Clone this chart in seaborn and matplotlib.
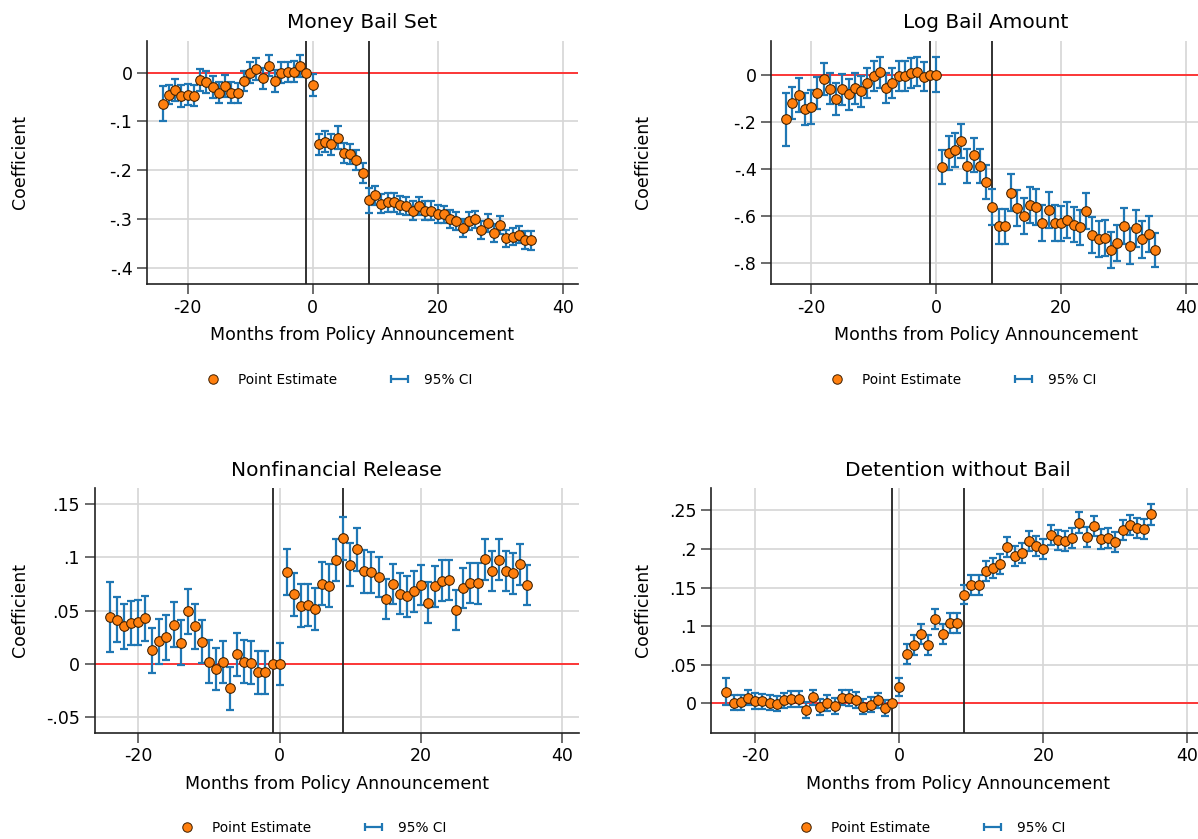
import numpy as np
import pandas as pd
import matplotlib
matplotlib.use("Agg")
import matplotlib.pyplot as plt
import seaborn as sns
from matplotlib.container import ErrorbarContainer
from matplotlib.legend_handler import HandlerErrorbar
from matplotlib.lines import Line2D
from matplotlib.ticker import FuncFormatter

# ---------------------------------------------------------------- data
months = list(range(-24, 36))

money_bail_est = [
    -0.064, -0.045, -0.036, -0.048, -0.045, -0.047, -0.015, -0.019, -0.030, -0.041,
    -0.028, -0.041, -0.042, -0.017, 0.000, 0.007, -0.012, 0.014, -0.017, 0.000,
    0.001, 0.002, 0.013, 0.000, -0.026,
    -0.147, -0.141, -0.147, -0.133, -0.164, -0.166, -0.179, -0.205, -0.261, -0.251,
    -0.268, -0.265, -0.265, -0.271, -0.273, -0.282, -0.273, -0.282, -0.282, -0.289,
    -0.290, -0.299, -0.303, -0.318, -0.303, -0.300, -0.322, -0.307, -0.328, -0.312,
    -0.339, -0.335, -0.331, -0.342, -0.343,
]
money_bail_ci = [
    0.036, 0.019, 0.023, 0.022, 0.022, 0.021, 0.022, 0.022, 0.023, 0.022,
    0.022, 0.021, 0.021, 0.021, 0.022, 0.022, 0.022, 0.022, 0.022, 0.021,
    0.021, 0.021, 0.022, np.nan, 0.022,
    0.022, 0.021, 0.021, 0.023, 0.021, 0.021, 0.020, 0.020, 0.026, 0.020,
    0.019, 0.019, 0.019, 0.019, 0.019, 0.019, 0.019, 0.019, 0.019, 0.018,
    0.018, 0.018, 0.018, 0.019, 0.018, 0.018, 0.019, 0.018, 0.019, 0.018,
    0.018, 0.018, 0.018, 0.019, 0.019,
]

log_bail_est = [
    -0.189, -0.120, -0.086, -0.144, -0.137, -0.078, -0.020, -0.059, -0.105, -0.062,
    -0.083, -0.058, -0.071, -0.037, -0.006, 0.010, -0.055, -0.037, -0.006, -0.006,
    0.007, 0.013, -0.008, 0.000, 0.000,
    -0.392, -0.333, -0.321, -0.283, -0.387, -0.341, -0.387, -0.456, -0.562, -0.643,
    -0.643, -0.500, -0.564, -0.599, -0.552, -0.561, -0.628, -0.575, -0.628, -0.631,
    -0.616, -0.636, -0.647, -0.578, -0.681, -0.698, -0.692, -0.744, -0.715, -0.643,
    -0.727, -0.652, -0.699, -0.675, -0.744,
]
log_bail_ci = [
    0.113, 0.069, 0.071, 0.068, 0.072, 0.068, 0.068, 0.066, 0.068, 0.066,
    0.066, 0.065, 0.065, 0.064, 0.064, 0.065, 0.064, 0.064, 0.063, 0.063,
    0.063, 0.063, 0.063, np.nan, 0.073,
    0.073, 0.072, 0.072, 0.072, 0.072, 0.072, 0.072, 0.072, 0.075, 0.075,
    0.074, 0.079, 0.076, 0.076, 0.076, 0.076, 0.076, 0.076, 0.076, 0.075,
    0.075, 0.075, 0.075, 0.078, 0.076, 0.076, 0.076, 0.078, 0.076, 0.076,
    0.077, 0.077, 0.077, 0.077, 0.074,
]

nonfinancial_est = [
    0.0438, 0.0416, 0.0353, 0.0384, 0.0388, 0.0428, 0.0128, 0.0213, 0.0250, 0.0366,
    0.0200, 0.0494, 0.0353, 0.0209, 0.0022, -0.0050, 0.0016, -0.0231, 0.0090, 0.0022,
    0.0010, -0.0080, -0.0080, 0.0000, 0.0000,
    0.0859, 0.0653, 0.0547, 0.0553, 0.0516, 0.0753, 0.0734, 0.0975, 0.1178, 0.0931,
    0.1075, 0.0869, 0.0859, 0.0816, 0.0609, 0.0747, 0.0659, 0.0634, 0.0681, 0.0741,
    0.0575, 0.0728, 0.0781, 0.0788, 0.0503, 0.0713, 0.0759, 0.0756, 0.0981, 0.0869,
    0.0978, 0.0872, 0.0850, 0.0934, 0.0741,
]
nonfinancial_ci = [
    0.033, 0.021, 0.021, 0.021, 0.021, 0.021, 0.021, 0.021, 0.021, 0.021,
    0.021, 0.021, 0.021, 0.020, 0.020, 0.020, 0.020, 0.020, 0.020, 0.020,
    0.020, 0.020, 0.020, np.nan, 0.020,
    0.0215, 0.020, 0.020, 0.020, 0.020, 0.020, 0.020, 0.020, 0.020, 0.020,
    0.020, 0.020, 0.019, 0.019, 0.019, 0.019, 0.019, 0.019, 0.019, 0.019,
    0.019, 0.019, 0.019, 0.019, 0.019, 0.019, 0.019, 0.019, 0.019, 0.019,
    0.019, 0.019, 0.019, 0.019, 0.019,
]

detention_est = [
    0.0152, 0.0009, 0.0013, 0.0074, 0.0030, 0.0026, 0.0009, -0.0004, 0.0039, 0.0057,
    0.0057, -0.0087, 0.0078, -0.0048, 0.0004, -0.0035, 0.0074, 0.0070, 0.0043, -0.0043,
    -0.0017, 0.0039, -0.0060, 0.0000, 0.0217,
    0.0635, 0.0751, 0.0902, 0.0760, 0.1088, 0.0894, 0.1040, 0.1045, 0.1408, 0.1533,
    0.1533, 0.1714, 0.1749, 0.1800, 0.2025, 0.1913, 0.1947, 0.2103, 0.2038, 0.2003,
    0.2176, 0.2120, 0.2103, 0.2137, 0.2340, 0.2150, 0.2297, 0.2133, 0.2137, 0.2085,
    0.2241, 0.2306, 0.2275, 0.2258, 0.2448,
]
detention_ci = [
    0.018, 0.010, 0.010, 0.010, 0.010, 0.010, 0.010, 0.010, 0.010, 0.010,
    0.010, 0.010, 0.010, 0.010, 0.010, 0.010, 0.010, 0.010, 0.010, 0.010,
    0.010, 0.010, 0.010, np.nan, 0.0117,
    0.013, 0.013, 0.013, 0.013, 0.013, 0.013, 0.013, 0.013, 0.0125, 0.013,
    0.013, 0.013, 0.013, 0.013, 0.013, 0.013, 0.013, 0.013, 0.013, 0.013,
    0.013, 0.013, 0.013, 0.013, 0.014, 0.013, 0.013, 0.013, 0.013, 0.013,
    0.013, 0.013, 0.013, 0.013, 0.0134,
]

panel_titles = ["Money Bail Set", "Log Bail Amount",
                "Nonfinancial Release", "Detention without Bail"]
panel_est = [money_bail_est, log_bail_est, nonfinancial_est, detention_est]
panel_ci = [money_bail_ci, log_bail_ci, nonfinancial_ci, detention_ci]
panel_yticks = [
    [-0.4, -0.3, -0.2, -0.1, 0.0],
    [-0.8, -0.6, -0.4, -0.2, 0.0],
    [-0.05, 0.0, 0.05, 0.10, 0.15],
    [0.0, 0.05, 0.10, 0.15, 0.20, 0.25],
]
x_ticks = [-20, 0, 20, 40]
event_months = [-1, 9]
x_label = "Months from Policy Announcement"
y_label = "Coefficient"
legend_labels = ["Point Estimate", "95% CI"]

# ---------------------------------------------------------------- layout (pixels)
W, H = 1198, 839
boxes = [(147, 40.7, 578, 284), (771, 40.7, 1201, 284),
         (94.7, 488, 579, 732.7), (711, 488, 1204, 732.7)]
xlims = [(-26.5, 42.45), (-26.4, 42.4), (-26.15, 42.35), (-26.15, 42.3)]
ylims = [(-0.432, 0.065), (-0.888, 0.144), (-0.0646, 0.165), (-0.0381, 0.2789)]
ylabel_x = [29, 652, 29, 652]
legend_centers = [(336, 380), (960, 380), (310, 828), (929, 828)]

# ---------------------------------------------------------------- style
ORANGE = "#ff7f0e"
EDGE = "#3c1e00"
CI_BLUE = "#1f77b4"
RED = "#ff2a2a"
GRID = "#d6d6d6"
AXIS = "#222222"

sns.set_style("ticks")
plt.rcParams["font.family"] = ["DejaVu Sans"]
plt.rcParams["axes.unicode_minus"] = False
plt.rcParams["text.color"] = "black"
plt.rcParams["axes.labelcolor"] = "black"
plt.rcParams["xtick.color"] = "#444444"
plt.rcParams["ytick.color"] = "#444444"
plt.rcParams["xtick.labelcolor"] = "black"
plt.rcParams["ytick.labelcolor"] = "black"


def stata_label(v, _pos=None):
    if abs(v) < 1e-9:
        return "0"
    s = f"{v:.2f}".rstrip("0").rstrip(".")
    return s.replace("0.", ".", 1)


fig = plt.figure(figsize=(W / 100, H / 100), dpi=100)

for i in range(4):
    l, t, r, b = boxes[i]
    ax = fig.add_axes([l / W, 1 - b / H, (r - l) / W, (b - t) / H])
    df = pd.DataFrame({"month": months, "coef": panel_est[i], "ci": panel_ci[i]})
    has_ci = df["ci"].notna()

    ax.grid(True, color=GRID, lw=1.2, zorder=0)
    ax.set_axisbelow(True)
    ax.axhline(0, color=RED, lw=1.3, zorder=1.5)
    for m in event_months:
        ax.axvline(m, color=AXIS, lw=1.3, zorder=1.6)

    ax.errorbar(df.loc[has_ci, "month"], df.loc[has_ci, "coef"],
                yerr=df.loc[has_ci, "ci"], fmt="none", ecolor=CI_BLUE,
                elinewidth=1.6, capsize=3, capthick=1.6, zorder=3)
    sns.scatterplot(data=df, x="month", y="coef", ax=ax, color=ORANGE,
                    edgecolor=EDGE, linewidth=0.75, s=48, zorder=4, legend=False)

    ax.set_xlim(*xlims[i])
    ax.set_ylim(*ylims[i])
    ax.set_xticks(x_ticks)
    ax.set_yticks(panel_yticks[i])
    ax.yaxis.set_major_formatter(FuncFormatter(stata_label))
    ax.tick_params(direction="out", length=7, width=1.1, labelsize=12.5, pad=3.5)

    sns.despine(ax=ax)
    for side in ("left", "bottom"):
        ax.spines[side].set_color(AXIS)
        ax.spines[side].set_linewidth(1.2)

    ax.set_title(panel_titles[i], fontsize=14.5, pad=8.9)
    ax.set_xlabel(x_label, fontsize=12.5)
    ax.xaxis.set_label_coords(0.5, -42.4 / (b - t))
    ax.set_ylabel(y_label, fontsize=12.5)
    ax.yaxis.set_label_coords((ylabel_x[i] - l) / (r - l), 0.5)

    point_handle = Line2D([], [], marker="o", ls="none", mfc=ORANGE, mec=EDGE,
                          mew=0.7, ms=6.8)
    ci_handle = ax.errorbar([np.nan], [np.nan], xerr=[1.0], fmt="none",
                            ecolor=CI_BLUE, elinewidth=1.6, capsize=3, capthick=1.6)
    cx, cy = legend_centers[i]
    fig.legend(handles=[point_handle, ci_handle], labels=legend_labels,
               loc="center", bbox_to_anchor=(cx / W, 1 - cy / H), ncol=2,
               frameon=False, fontsize=9.8, handlelength=2.0, handletextpad=0.8,
               columnspacing=3.6,
               handler_map={ErrorbarContainer: HandlerErrorbar(xerr_size=0.65)})

fig.savefig("out.png", dpi=100)
